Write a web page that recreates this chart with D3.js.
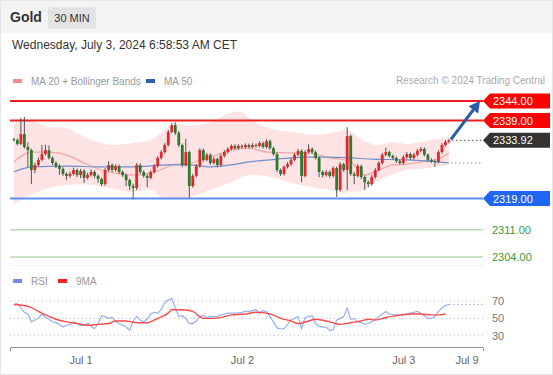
<!DOCTYPE html>
<html>
<head>
<meta charset="utf-8">
<script src="https://cdn.jsdelivr.net/npm/d3@7"></script>
<style>
  body { margin: 0; background: #fff; }
  svg { display: block; font-family: 'Liberation Sans', Arial, sans-serif; }
</style>
</head>
<body>
<div id="chart"></div>
<script>
const width = 553
const height = 375

// 30 min candles, Jun 28 13:30 -> Jul 3 06:30 CET (open = previous close)
const firstOpen = 2334.2
const closes = [
  2334.0, 2333.0, 2335.5, 2332.2, 2331.4, 2326.3, 2327.6, 2328.9, 2330.4, 2331.4,
  2329.4, 2328.1, 2327.3, 2326.6, 2325.3, 2324.8, 2325.3, 2326.3, 2325.0, 2326.1,
  2324.3, 2325.0, 2325.8, 2324.8, 2324.0, 2322.7, 2326.3, 2327.6, 2326.3, 2327.3,
  2325.8, 2325.0, 2323.7, 2322.2, 2321.7, 2327.6, 2325.8, 2324.8, 2324.3, 2325.8,
  2327.3, 2329.4, 2330.9, 2332.7, 2336.1, 2337.8, 2335.8, 2332.7, 2327.6, 2330.9,
  2322.2, 2324.8, 2327.3, 2331.4, 2328.9, 2330.2, 2328.1, 2329.1, 2327.6, 2329.9,
  2330.9, 2331.7, 2332.5, 2331.9, 2332.5, 2332.2, 2332.7, 2332.2, 2332.7, 2332.5,
  2333.2, 2332.2, 2333.7, 2331.9, 2330.4, 2326.3, 2325.3, 2327.1, 2327.8, 2328.9,
  2330.2, 2331.2, 2324.8, 2330.9, 2331.7, 2330.9, 2329.4, 2325.8, 2325.0, 2325.8,
  2324.8, 2326.8, 2321.2, 2327.8, 2326.3, 2335.0, 2325.3, 2324.8, 2327.3, 2324.5,
  2323.2, 2322.7, 2324.5, 2326.3, 2328.1, 2330.2, 2330.9, 2329.9, 2329.4, 2328.6,
  2328.1, 2329.6, 2330.4, 2329.4, 2330.2, 2331.2, 2331.7, 2330.2, 2328.9, 2328.6,
  2328.4, 2330.9, 2332.7, 2333.5, 2333.92
]
const highs = [
  2334.6, 2334.4, 2339.6, 2339.9, 2333.4, 2331.8, 2328.2, 2329.5, 2332.7, 2332.8,
  2332.6, 2329.8, 2328.6, 2327.8, 2327.0, 2325.7, 2325.9, 2326.9, 2326.7, 2326.6,
  2326.5, 2325.6, 2326.4, 2326.2, 2325.2, 2324.4, 2326.8, 2328.6, 2328.0, 2327.8,
  2327.7, 2326.2, 2325.4, 2324.1, 2322.8, 2328.1, 2328.0, 2326.2, 2325.2, 2326.2,
  2327.8, 2329.9, 2331.4, 2333.2, 2336.6, 2338.4, 2338.6, 2336.3, 2333.1, 2334.3,
  2331.3, 2325.3, 2327.8, 2331.9, 2331.8, 2330.7, 2330.6, 2329.6, 2329.5, 2330.4,
  2331.4, 2332.2, 2332.9, 2332.9, 2332.9, 2332.9, 2333.1, 2333.1, 2333.2, 2333.1,
  2333.7, 2333.6, 2334.2, 2334.1, 2332.3, 2330.8, 2326.7, 2327.5, 2328.3, 2329.4,
  2330.7, 2331.7, 2331.6, 2331.4, 2332.9, 2332.1, 2331.3, 2329.8, 2326.2, 2326.3,
  2326.2, 2327.3, 2327.2, 2328.3, 2328.2, 2337.3, 2335.4, 2325.8, 2327.8, 2327.7,
  2324.9, 2323.6, 2325.0, 2326.8, 2328.6, 2330.7, 2332.0, 2331.3, 2330.3, 2329.8,
  2329.0, 2330.1, 2330.9, 2330.8, 2330.7, 2331.7, 2332.2, 2332.1, 2330.6, 2329.3,
  2329.0, 2331.4, 2333.2, 2334.0, 2334.3
]
const lows = [
  2333.6, 2332.6, 2332.7, 2331.8, 2327.1, 2322.7, 2325.5, 2327.2, 2328.5, 2330.0,
  2329.0, 2327.6, 2326.8, 2325.1, 2324.8, 2323.7, 2324.3, 2324.9, 2324.5, 2324.2,
  2323.0, 2323.9, 2324.6, 2324.2, 2323.0, 2322.2, 2322.3, 2325.9, 2325.8, 2325.9,
  2325.3, 2324.5, 2322.2, 2321.2, 2318.9, 2321.2, 2325.3, 2324.3, 2321.9, 2323.9,
  2325.4, 2326.9, 2329.0, 2330.5, 2332.3, 2335.7, 2335.3, 2332.2, 2327.0, 2327.2,
  2319.1, 2321.8, 2324.4, 2326.9, 2328.4, 2328.5, 2327.6, 2327.7, 2327.0, 2327.2,
  2329.5, 2330.5, 2331.3, 2331.5, 2331.5, 2331.8, 2331.8, 2331.8, 2331.9, 2332.0,
  2332.1, 2331.8, 2331.8, 2331.5, 2330.0, 2325.8, 2324.8, 2324.9, 2326.7, 2327.4,
  2328.5, 2329.8, 2323.2, 2324.4, 2330.5, 2330.5, 2329.0, 2324.5, 2324.4, 2324.6,
  2324.3, 2324.4, 2319.4, 2320.8, 2325.8, 2321.2, 2324.8, 2322.7, 2324.4, 2324.0,
  2321.2, 2321.9, 2322.3, 2324.1, 2325.9, 2327.7, 2329.8, 2329.5, 2328.9, 2328.1,
  2327.6, 2327.7, 2329.2, 2328.9, 2329.0, 2329.8, 2330.8, 2329.8, 2328.4, 2328.1,
  2327.1, 2328.0, 2330.5, 2332.3, 2333.1
]

// indicator readings: [bar index, value]
const ma20 = [
  [0, 2328.4], [5, 2330.9], [10, 2330.9], [15, 2330.2], [20, 2328.1], [25, 2326.3],
  [29, 2325.5], [34, 2325.0], [39, 2325.5], [43, 2326.8], [45, 2327.6], [50, 2328.0],
  [56, 2329.6], [62, 2331.4], [67, 2331.9], [72, 2330.9], [79, 2330.7], [84, 2330.7],
  [90, 2329.4], [93, 2329.1], [96, 2328.4], [100, 2325.0], [104, 2326.3], [108, 2327.6],
  [112, 2327.8], [116, 2328.4], [120, 2328.9], [122, 2329.6], [124, 2330.7]
]
const bandUpper = [
  [0, 2338.4], [4, 2339.1], [10, 2337.3], [15, 2337.1], [18, 2335.8], [22, 2334.0],
  [25, 2333.2], [28, 2332.7], [34, 2333.2], [39, 2334.0], [42, 2335.8], [44, 2337.3],
  [46, 2338.2], [50, 2337.6], [56, 2338.6], [62, 2341.0], [65, 2341.2], [67, 2339.6],
  [69, 2338.4], [74, 2336.6], [79, 2336.1], [86, 2335.3], [93, 2336.3], [95, 2336.6],
  [98, 2334.8], [102, 2333.0], [104, 2332.7], [108, 2333.5], [112, 2333.0], [116, 2333.5],
  [119, 2334.0], [121, 2334.3], [124, 2334.8]
]
const bandLower = [
  [0, 2317.3], [2, 2318.6], [5, 2319.9], [10, 2321.7], [16, 2322.5], [22, 2322.5],
  [25, 2322.0], [30, 2321.2], [34, 2320.7], [39, 2321.2], [42, 2319.4], [46, 2319.1],
  [50, 2319.4], [56, 2321.2], [62, 2323.2], [67, 2325.0], [73, 2324.5], [79, 2323.0],
  [84, 2322.0], [90, 2321.2], [94, 2320.4], [96, 2320.7], [100, 2321.2], [104, 2323.7],
  [108, 2325.3], [112, 2326.3], [116, 2326.6], [120, 2327.1], [124, 2327.6]
]
const ma50 = [
  [0, 2325.8], [5, 2327.1], [15, 2327.3], [25, 2327.1], [34, 2327.1], [44, 2327.6],
  [50, 2327.6], [56, 2327.1], [62, 2327.6], [67, 2328.4], [73, 2328.9], [79, 2329.4],
  [84, 2329.6], [90, 2329.6], [96, 2329.4], [102, 2329.1], [112, 2328.9], [121, 2328.4],
  [124, 2328.1]
]

const rsi = [
  66, 67, 62, 57, 55, 46, 48, 50, 55, 51, 49, 46, 45, 43, 40, 42, 43, 46, 44, 42,
  42, 44, 41, 38, 44, 53, 52, 50, 51, 46, 44, 42, 40, 36, 47, 52, 48, 46, 49, 55,
  57, 56, 60, 68, 71, 73, 62, 52, 53, 50, 44, 44, 47, 52, 53, 51, 52, 52, 52, 54,
  55, 56, 56, 56, 56, 57, 58, 58, 59, 60, 56, 59, 58, 52, 46, 39, 38, 38, 43, 48,
  50, 52, 38, 51, 52, 53, 44, 41, 40, 40, 36, 37, 48, 50, 52, 62, 49, 50, 46, 45,
  43, 44, 46, 49, 52, 55, 58, 55, 54, 54, 54, 54, 55, 56, 57, 58, 56, 53, 50, 50,
  52, 58, 62, 65, 66
]
const rsiMa = [
  [0, 66], [4, 64], [7, 58], [9, 54], [12, 49], [15, 46], [18, 44], [21, 42], [24, 43],
  [27, 44], [29, 47], [32, 47], [35, 45], [38, 45], [41, 50], [44, 56], [45, 60], [48, 60],
  [51, 58], [54, 50], [57, 50], [60, 52], [62, 54], [66, 55], [69, 57], [72, 56], [75, 52],
  [76, 50], [79, 47], [81, 44], [84, 47], [86, 49], [90, 46], [93, 43], [96, 45], [99, 47],
  [101, 49], [103, 48], [106, 51], [109, 53], [113, 55], [116, 55], [119, 54], [121, 54],
  [123, 55]
]

const levelsRed = [2344, 2339]
const levelBlue = 2319
const levelsGreen = [2311, 2304]
const lastPrice = 2333.92
const rsiTicks = [70, 50, 30]
const dayTicks = [19, 65, 111, 129]
const dayLabels = ['Jul 1', 'Jul 2', 'Jul 3', 'Jul 9']

const candles = closes.map((c, i) => ({
  i,
  open: i === 0 ? firstOpen : closes[i - 1],
  close: c,
  high: highs[i],
  low: lows[i]
}))

const left = 10
const right = 483

const x = d3.scaleLinear().domain([-1.1, 133.7]).range([left, right])
const y = d3.scaleLinear().domain([2304, 2344]).range([257, 101])
const yr = d3.scaleLinear().domain([30, 70]).range([335.7, 301])

const svg = d3
  .select('#chart')
  .append('svg')
  .attr('width', width)
  .attr('height', height)

// header
svg.append('rect').attr('width', width).attr('height', 33).attr('fill', '#f4f4f4')
svg.append('rect').attr('x', 0.5).attr('y', 0.5).attr('width', width - 1).attr('height', height - 1)
  .attr('fill', 'none').attr('stroke', '#e6e6e6')
svg.append('text').attr('x', 10).attr('y', 22).text('Gold')
  .attr('font-size', 14).attr('font-weight', 'bold').attr('fill', '#333')
svg.append('rect').attr('x', 48).attr('y', 7).attr('width', 48).attr('height', 22)
  .attr('rx', 2).attr('fill', '#e3e3e3')
svg.append('text').attr('x', 72).attr('y', 22).attr('text-anchor', 'middle').text('30 MIN')
  .attr('font-size', 11).attr('fill', '#333')
svg.append('text').attr('x', 12).attr('y', 49).text('Wednesday, July 3, 2024 6:58:53 AM CET')
  .attr('font-size', 12).attr('fill', '#333')

// legend
const legend = (lx, ly, color, label) => {
  svg.append('rect').attr('x', lx).attr('y', ly - 2).attr('width', 9).attr('height', 4).attr('fill', color)
  svg.append('text').attr('x', lx + 18).attr('y', ly + 3.5).text(label)
    .attr('font-size', 10).attr('fill', '#999')
}
legend(13, 81, '#f48a8a', 'MA 20 + Bollinger Bands')
legend(146, 81, '#2f5ea8', 'MA 50')
svg.append('text').attr('x', 545).attr('y', 84).attr('text-anchor', 'end')
  .text('Research \u00a9 2024 Trading Central').attr('font-size', 10).attr('fill', '#aaa')

// bollinger band: upper edge forward, lower edge back
const edge = d3.line().curve(d3.curveCatmullRom).x(d => x(d[0])).y(d => y(d[1]))
const upperPath = edge(bandUpper)
const lowerPath = edge(bandLower.slice().reverse())
svg.append('path')
  .attr('d', upperPath + 'L' + lowerPath.slice(1) + 'Z')
  .attr('fill', '#fde3e3')

const line = d3.line().curve(d3.curveMonotoneX).x(d => x(d[0])).y(d => y(d[1]))
svg.append('path').datum(ma20).attr('d', line).attr('fill', 'none')
  .attr('stroke', '#f6a3a3').attr('stroke-width', 1.2)
svg.append('path').datum(ma50).attr('d', line).attr('fill', 'none')
  .attr('stroke', '#7090cc').attr('stroke-width', 1.2)
const lastMa50 = ma50[ma50.length - 1][1]
svg.append('line').attr('x1', x(124) + 2).attr('x2', right).attr('y1', y(lastMa50)).attr('y2', y(lastMa50))
  .attr('stroke', '#7090cc').attr('stroke-dasharray', '1.5,2.5')

// levels
svg.selectAll('.lvl-red').data(levelsRed).enter().append('line')
  .attr('x1', left).attr('x2', right).attr('y1', d => y(d)).attr('y2', d => y(d))
  .attr('stroke', '#ee1c1c').attr('stroke-width', 2)
svg.append('line').attr('x1', left).attr('x2', right).attr('y1', y(levelBlue)).attr('y2', y(levelBlue))
  .attr('stroke', '#5b8ef2').attr('stroke-width', 2)
svg.selectAll('.lvl-green').data(levelsGreen).enter().append('line')
  .attr('x1', left).attr('x2', right).attr('y1', d => y(d)).attr('y2', d => y(d))
  .attr('stroke', '#b9dcb5').attr('stroke-width', 1.5)

// candles
const g = svg.append('g')
g.selectAll('line').data(candles).enter().append('line')
  .attr('x1', d => x(d.i)).attr('x2', d => x(d.i))
  .attr('y1', d => y(d.high)).attr('y2', d => y(d.low))
  .attr('stroke', '#555').attr('stroke-width', 1)
g.selectAll('rect').data(candles).enter().append('rect')
  .attr('x', d => x(d.i) - 1.4).attr('width', 2.8)
  .attr('y', d => y(Math.max(d.open, d.close)))
  .attr('height', d => Math.max(1, Math.abs(y(d.open) - y(d.close))))
  .attr('fill', d => (d.close >= d.open ? '#e3262b' : '#2c7a30'))

// current price dotted
svg.append('line').attr('x1', x(124) + 3).attr('x2', right).attr('y1', y(lastPrice)).attr('y2', y(lastPrice))
  .attr('stroke', '#555').attr('stroke-dasharray', '1.5,2.5')

// forecast arrow
const ax0 = x(124) + 2
const ay0 = y(lastPrice) - 1
const ax1 = 480
const ay1 = y(2344)
const ang = Math.atan2(ay1 - ay0, ax1 - ax0)
const headL = 11
const headW = 6
const bx = ax1 - headL * Math.cos(ang)
const by = ay1 - headL * Math.sin(ang)
svg.append('line').attr('x1', ax0).attr('y1', ay0).attr('x2', bx).attr('y2', by)
  .attr('stroke', '#2b5ea8').attr('stroke-width', 3)
svg.append('path')
  .attr('d', `M${ax1},${ay1} L${bx + headW * Math.sin(ang)},${by - headW * Math.cos(ang)} L${bx - headW * Math.sin(ang)},${by + headW * Math.cos(ang)} Z`)
  .attr('fill', '#2b5ea8')

// price tags
const tag = (value, color) => {
  const ty = y(value)
  svg.append('path')
    .attr('d', `M483,${ty} L490,${ty - 7.5} L550,${ty - 7.5} L550,${ty + 7.5} L490,${ty + 7.5} Z`)
    .attr('fill', color)
  svg.append('text').attr('x', 493).attr('y', ty + 4).text(value.toFixed(2))
    .attr('font-size', 11).attr('fill', '#fff')
}
levelsRed.forEach(v => tag(v, '#ff0000'))
tag(lastPrice, '#333333')
tag(levelBlue, '#1f66f2')
svg.selectAll('.lbl-green').data(levelsGreen).enter().append('text')
  .attr('x', 492).attr('y', d => y(d) + 4).text(d => d.toFixed(2))
  .attr('font-size', 11).attr('fill', '#3a9a3a')

// panel separator
svg.append('line').attr('x1', left).attr('x2', right).attr('y1', 265.5).attr('y2', 265.5)
  .attr('stroke', '#f0f0f0')

// RSI panel
legend(13, 281, '#6f8fe6', 'RSI')
legend(58, 281, '#ff2020', '9MA')

svg.selectAll('.rsi-grid').data(rsiTicks).enter().append('line')
  .attr('x1', left).attr('x2', right).attr('y1', d => yr(d)).attr('y2', d => yr(d))
  .attr('stroke', '#bbb').attr('stroke-dasharray', '1,3')
svg.selectAll('.rsi-lbl').data(rsiTicks).enter().append('text')
  .attr('x', 492).attr('y', d => yr(d) + 4).text(d => d)
  .attr('font-size', 11).attr('fill', '#777')

svg.append('path').datum(rsi)
  .attr('d', d3.line().x((d, i) => x(i)).y(d => yr(d)))
  .attr('fill', 'none').attr('stroke', '#94aef0').attr('stroke-width', 1.2)
svg.append('line').attr('x1', x(124)).attr('x2', right)
  .attr('y1', yr(rsi[rsi.length - 1])).attr('y2', yr(rsi[rsi.length - 1]))
  .attr('stroke', '#94aef0').attr('stroke-dasharray', '1.5,2.5')
svg.append('path').datum(rsiMa)
  .attr('d', d3.line().curve(d3.curveMonotoneX).x(d => x(d[0])).y(d => yr(d[1])))
  .attr('fill', 'none').attr('stroke', '#ff4a4a').attr('stroke-width', 1.4)

// x axis
const xAxis = d3.axisBottom(x)
  .tickValues(dayTicks)
  .tickFormat((d, k) => dayLabels[k])
  .tickSizeInner(0)
  .tickSizeOuter(4)
  .tickPadding(9)
const axG = svg.append('g').attr('transform', 'translate(0,347)').call(xAxis)
axG.select('.domain').attr('stroke', '#999')
axG.selectAll('text').attr('font-size', 11).attr('fill', '#666')
  .attr('font-family', "'Liberation Sans', Arial, sans-serif")
</script>
</body>
</html>
